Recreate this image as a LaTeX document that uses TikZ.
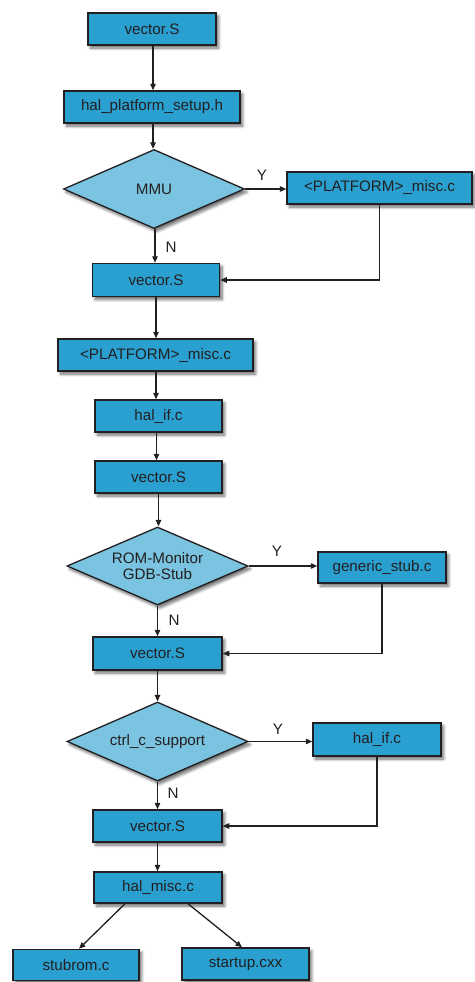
\documentclass[tikz,border=0pt]{standalone}
\usepackage{fontspec}
\setmainfont{Liberation Sans}
\usetikzlibrary{shapes.geometric,arrows.meta,shadows.blur}

\definecolor{boxfill}{HTML}{2AA0D1}
\definecolor{decfill}{HTML}{7AC4E1}
\definecolor{ink}{HTML}{231F20}

\tikzset{
  x=1pt, y=-1pt,
  every node/.style={font=\fontsize{15.2}{16.5}\selectfont, text=ink},
  dropshadow/.style={blur shadow={shadow xshift=2.5pt, shadow yshift=-3pt,
      shadow blur radius=3pt, shadow blur steps=6, shadow opacity=60}},
  filebox/.style={draw=ink, line width=1.5pt, fill=boxfill, rectangle,
      inner sep=0pt, minimum height=32pt, dropshadow},
  decision/.style={draw=ink, line width=1.3pt, fill=decfill, diamond, aspect=2.3,
      inner sep=0pt, minimum width=181pt, minimum height=79pt, align=center, dropshadow},
  flow/.style={draw=ink, line width=1.3pt, -{Triangle[length=6.5pt,width=5.5pt]}},
  branch/.style={font=\fontsize{15.2}{16.5}\selectfont, inner sep=0pt}
}

\begin{document}
\begin{tikzpicture}
\useasboundingbox (0,0) rectangle (474,982);

% main column
\node[filebox, minimum width=128pt] (v1)  at (152,29)    {vector.S};
\node[filebox, minimum width=176pt] (hps) at (152,107)   {hal\_platform\_setup.h};
\node[decision] (mmu) at (154,189) {MMU};
\node[filebox, minimum width=185pt] (pm1) at (379.5,188) {<PLATFORM>\_misc.c};
\node[filebox, minimum width=127pt, minimum height=33pt] (v2) at (156,280) {vector.S};
\node[filebox, minimum width=195pt] (pm2) at (155.5,355) {<PLATFORM>\_misc.c};
\node[filebox, minimum width=127pt] (hif1) at (158.5,416) {hal\_if.c};
\node[filebox, minimum width=127pt] (v3)  at (158.5,477) {vector.S};
\node[decision, minimum height=78pt] (rom) at (157.5,566) {ROM-Monitor\\GDB-Stub};
\node[filebox, minimum width=128pt, minimum height=31pt] (gs) at (382,567.5) {generic\_stub.c};
\node[filebox, minimum width=129pt, minimum height=33pt] (v4) at (157.5,653.5) {vector.S};
\node[decision] (ctrl) at (157.5,741.5) {ctrl\_c\_support};
\node[filebox, minimum width=128pt, minimum height=33pt] (hif2) at (377,739.5) {hal\_if.c};
\node[filebox, minimum width=129pt] (v5) at (157.5,826) {vector.S};
\node[filebox, minimum width=128pt, minimum height=31pt] (hmisc) at (158,887.5) {hal\_misc.c};
\node[filebox, minimum width=126pt, minimum height=31pt] (stub) at (76,965) {stubrom.c};
\node[filebox, minimum width=127pt, minimum height=32pt] (start) at (245.5,964) {startup.cxx};

% straight flow
\draw[flow] ([xshift=1pt]v1.south) -- ([xshift=1pt]v1.south |- hps.north);
\draw[flow] ([xshift=1pt]hps.south) -- ([xshift=1pt]hps.south |- mmu.north);
\draw[flow] ([xshift=1pt]mmu.south) -- ([xshift=1pt]mmu.south |- v2.north);
\draw[flow] (v2.south) -- (v2.south |- pm2.north);
\draw[flow] ([xshift=0.5pt]pm2.south) -- ([xshift=0.5pt]pm2.south |- hif1.north);
\draw[flow] ([xshift=-2pt]hif1.south) -- ([xshift=-2pt]hif1.south |- v3.north);
\draw[flow] (v3.south) -- (v3.south |- rom.north);
\draw[flow] (rom.south) -- (rom.south |- v4.north);
\draw[flow] (v4.south) -- (v4.south |- ctrl.north);
\draw[flow] (ctrl.south) -- (ctrl.south |- v5.north);
\draw[flow] (v5.south) -- (v5.south |- hmisc.north);

% decision branches
\draw[flow] (mmu.east) -- (mmu.east -| pm1.west);
\draw[flow] (pm1.south) |- (v2.east);
\draw[flow] (rom.east) -- (rom.east -| gs.west);
\draw[flow] (gs.south) |- (v4.east);
\draw[flow] (ctrl.east) -- (ctrl.east -| hif2.west);
\draw[flow] (hif2.south) |- (v5.east);

% branch labels
\node[branch] (y1) at (262,175) {Y};
\node[branch] (n1) at (171,247) {N};
\node[branch] (y2) at (277,551) {Y};
\node[branch] (n2) at (174,620) {N};
\node[branch] (y3) at (278,729) {Y};
\node[branch] (n3) at (173,793) {N};

% final split
\draw[flow] ([xshift=-33pt]hmisc.south) -- ([xshift=3pt]stub.north);
\draw[flow] ([xshift=30pt]hmisc.south) -- ([xshift=-3.5pt]start.north);
\end{tikzpicture}
\end{document}
